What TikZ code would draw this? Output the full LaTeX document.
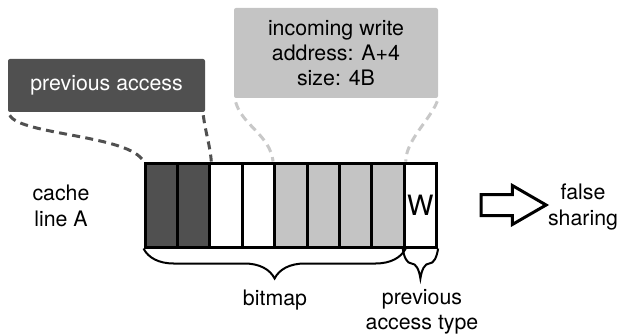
\documentclass[tikz,border=0pt]{standalone}
\usepackage{fontspec}
\setmainfont{TeX Gyre Heros}
\usetikzlibrary{shapes.arrows, decorations.pathreplacing}

\definecolor{darkcell}{HTML}{505050}
\definecolor{lightcell}{HTML}{C4C4C4}
\definecolor{lightdash}{HTML}{C8C8C8}

\tikzset{
    every node/.style={font=\fontsize{16}{19}\selectfont},
    cell/.style={draw, line width=2.25pt, inner sep=0pt, minimum width=24.3pt, minimum height=63pt},
    prevbox/.style={fill=darkcell, text=white, rounded corners=1.5pt, minimum width=147.75pt, minimum height=39.75pt},
    writebox/.style={fill=lightcell, rounded corners=1.5pt, align=center, minimum width=153pt, minimum height=67.5pt},
    darkline/.style={darkcell, line width=2.25pt, dash pattern=on 6pt off 4pt},
    lightline/.style={lightdash, line width=2.25pt, dash pattern=on 6pt off 4pt},
    bracestyle/.style={line width=1.5pt, decorate, decoration={brace, mirror, amplitude=22.5pt}},
    blockarrow/.style={draw, line width=2.25pt, single arrow, inner xsep=0pt, inner ysep=6.75pt,
        single arrow head extend=6.75pt, single arrow tip angle=60, minimum height=48.75pt}
}

\begin{document}
\begin{tikzpicture}[x=0.75pt, y=-0.75pt]
    \useasboundingbox (0,0) rectangle (618,335);
    \foreach \f [count=\i] in {darkcell,darkcell,white,white,lightcell,lightcell,lightcell,lightcell}
        \node[cell, fill=\f] (c\i) at ({145+32.4*(\i-0.5)},205) {};
    \node[cell, font=\fontsize{21}{21}\selectfont] (wbit) at ({145+32.4*8.5},205) {W};
    \node[prevbox] (prev) at (106.5,85.5) {previous access};
    \node[writebox] (write) at (336,53) {incoming write\\address: A+4\\size: 4B};
    \node[align=center] (line) at (61,206) {cache\\line A};
    \node[blockarrow] (arr) at (504.5,205) {};
    \node[align=center] (sharing) at (583,207) {false\\sharing};
    \node (bitmap) at (275,300) {bitmap};
    \node[align=center] (type) at (422,312) {previous\\access type};
    \draw[darkline] ([shift={(2,3)}]prev.south west) .. controls (20,135) and (130,135) .. (c1.north west);
    \draw[darkline] ([shift={(-2,3)}]prev.south east) .. controls (206,135) and (210,145) .. (c2.north east);
    \draw[lightline] ([shift={(2,4)}]write.south west) .. controls (242,125) and (270,135) .. (c5.north west);
    \draw[lightline] ([shift={(-1,3)}]write.south east) .. controls (430,120) and (406,140) .. (c8.north east);
    \draw[bracestyle] (c1.south west) -- (c8.south east);
    \draw[bracestyle] (wbit.south west) -- (wbit.south east);
\end{tikzpicture}
\end{document}
